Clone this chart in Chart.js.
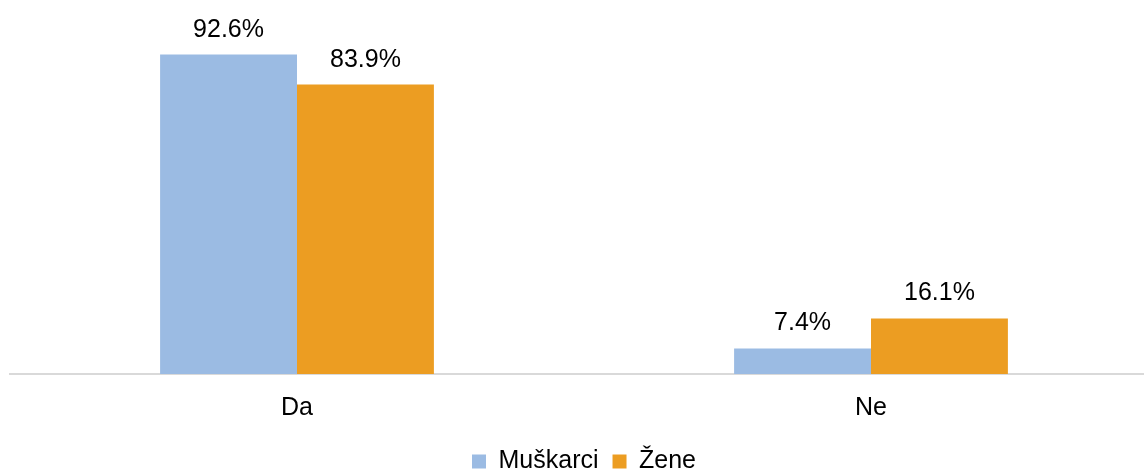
<!DOCTYPE html>
<html>
<head>
<meta charset="utf-8">
<script src="https://cdn.jsdelivr.net/npm/chart.js@4"></script>
<style>
  html, body { margin: 0; padding: 0; background: #fff; overflow: hidden; }
  #wrap { width: 1144px; height: 470px; overflow: hidden; }
</style>
</head>
<body>
<div id="wrap"><canvas id="chart" width="1158" height="470"></canvas></div>
<script>
const categories = ['Da', 'Ne'];
const seriesNames = ['Muškarci', 'Žene'];
const muskarci = [92.6, 7.4];
const zene = [83.9, 16.1];
const seriesColors = ['#9BBBE3', '#EC9D22'];

const FONT = 'Arial, "Liberation Sans", sans-serif';

// Draw value labels above bars
const valueLabels = {
    id: 'valueLabels',
    afterDatasetsDraw(chart) {
        const ctx = chart.ctx;
        ctx.save();
        ctx.font = '25px ' + FONT;
        ctx.fillStyle = '#000';
        ctx.textAlign = 'center';
        ctx.textBaseline = 'alphabetic';
        chart.data.datasets.forEach((ds, i) => {
            chart.getDatasetMeta(i).data.forEach((bar, j) => {
                ctx.fillText(ds.data[j].toFixed(1) + '%', bar.x, bar.y - 18);
            });
        });
        ctx.restore();
    }
};

const ctx = document.getElementById('chart').getContext('2d');
new Chart(ctx, {
    type: 'bar',
    data: {
        labels: categories,
        datasets: [
            { label: seriesNames[0], data: muskarci, backgroundColor: seriesColors[0] },
            { label: seriesNames[1], data: zene, backgroundColor: seriesColors[1] }
        ]
    },
    options: {
        responsive: false,
        animation: false,
        layout: { padding: { left: 10, right: 0, top: 29, bottom: -14 } },
        datasets: {
            bar: { categoryPercentage: 0.477, barPercentage: 1.0 }
        },
        scales: {
            x: {
                grid: { display: false, drawTicks: false },
                border: { display: true, color: '#D9D9D9', width: 2 },
                ticks: { color: '#000', font: { size: 25, family: FONT }, padding: 19 },
                afterFit(scale) { scale.height -= 7; }
            },
            y: {
                display: false,
                min: 0,
                max: 100
            }
        },
        plugins: {
            legend: {
                position: 'bottom',
                labels: {
                    boxWidth: 14,
                    boxHeight: 14,
                    padding: 14,
                    color: '#000',
                    font: { size: 25, family: FONT }
                }
            },
            tooltip: { enabled: false }
        }
    },
    plugins: [valueLabels]
});
</script>
</body>
</html>
